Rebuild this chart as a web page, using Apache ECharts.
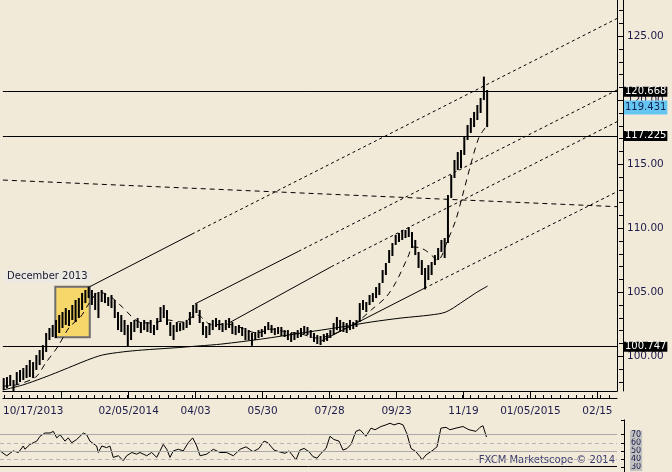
<!DOCTYPE html>
<html><head><meta charset="utf-8">
<script src="https://cdn.jsdelivr.net/npm/echarts@6/dist/echarts.min.js"></script>
<style>html,body{margin:0;padding:0;background:#F2EAD8;}#c{width:672px;height:472px;}</style>
</head><body><div id="c"></div>
<script>
// ---- axis ranges (x in trading days from the left edge) ----
const X_MAX = 376;
const PRICE_MIN = 97.29, PRICE_MAX = 127.836;

// ---- price bars: one bar per two trading days ----
const barHigh = [98.30,98.38,98.54,98.15,98.77,98.93,99.09,99.32,99.71,99.55,
100.10,100.49,100.88,101.82,102.21,102.45,102.84,103.23,103.46,103.77,
103.62,104.01,104.40,104.55,104.95,105.18,105.44,105.18,104.95,105.02,
105.18,104.95,104.63,104.79,104.40,103.46,103.23,102.84,102.45,102.68,
102.84,102.99,102.68,102.84,102.68,102.84,102.45,102.99,103.85,104.01,
103.62,102.68,102.45,102.68,102.60,102.68,102.84,103.46,104.01,104.13,
103.62,102.68,102.37,102.60,102.84,102.99,102.84,102.60,102.84,102.99,
102.68,102.37,102.45,102.29,102.21,102.05,101.82,101.90,102.05,102.13,
102.37,102.68,102.45,102.21,102.29,102.29,102.05,102.05,101.82,101.90,
102.05,102.21,102.37,102.29,102.05,101.82,101.66,101.59,101.74,101.82,
102.05,102.60,103.07,102.84,102.68,102.60,102.84,102.68,102.84,104.16,
104.40,104.24,104.79,104.95,105.41,105.73,106.74,107.29,108.30,108.85,
109.48,109.63,109.87,109.87,110.09,109.71,109.09,108.15,107.52,106.90,
107.13,107.37,107.91,108.46,109.09,109.24,112.60,114.16,115.34,115.96,
116.12,117.13,118.07,118.62,119.09,119.63,120.18,121.85,120.80];
const barLow = [97.37,97.52,97.68,97.29,97.76,97.99,98.15,98.30,98.38,98.30,
98.93,99.32,99.71,100.34,101.27,101.51,101.43,101.82,102.21,102.45,
102.37,102.84,102.68,102.99,103.62,104.16,104.55,104.01,103.62,102.99,
104.24,104.16,103.93,103.77,102.99,102.05,101.90,101.66,100.75,101.27,
101.90,102.21,101.82,102.05,101.90,101.82,101.66,102.05,102.68,102.99,
102.45,101.59,101.27,101.90,101.97,102.05,102.21,102.45,102.99,103.38,
102.60,101.66,101.43,101.66,102.05,102.29,102.05,101.90,102.05,102.21,
101.74,101.66,101.82,101.59,101.27,101.27,100.82,101.27,101.43,101.51,
101.74,102.05,101.82,101.66,101.74,101.59,101.51,101.27,101.12,101.27,
101.43,101.51,101.74,101.66,101.43,101.12,100.96,100.88,101.12,101.20,
101.43,101.66,102.05,101.90,101.90,101.82,102.05,102.13,102.29,102.68,
103.62,103.46,104.01,104.24,104.55,104.79,105.73,106.35,107.29,107.84,
108.70,108.93,109.09,109.24,109.32,108.46,107.91,106.90,106.35,105.23,
105.96,106.35,107.13,107.52,108.15,107.68,108.85,112.37,113.93,114.55,
114.71,115.73,116.90,117.45,117.91,118.46,119.01,120.02,117.91];

// ---- long moving average ----
const longMaDay = [0,12.2,24.4,32.3,42.7,51.8,60.9,73.1,85.3,103.6,120.0,134.1,158.4,182.8,207.2,225.5,243.8,262.0,271.2,280.3,289.5,296.8];
const longMaVal = [97.37,97.76,98.31,98.70,99.24,99.71,100.10,100.34,100.49,100.65,100.81,100.96,101.35,101.82,102.29,102.68,102.99,103.23,103.46,104.16,104.95,105.49];

// ---- short moving average (dashed) ----
const shortMaDay = [0,7.9,20.1,26.2,33.5,40.8,47.5,53.0,59.1,67.0,73.1,83.5,91.4,100.5,109.7,118.8,128.0,137.1,146.3,155.4,164.5,173.7,182.8,192.0,201.1,210.2,216.3,225.5,234.6,240.7,248.0,251.1,255.9,260.2,266.3,272.4,277.3,281.5,286.4,291.3,295.6];
const shortMaVal = [97.68,97.76,98.38,99.48,100.73,102.29,103.07,104.17,105.02,104.55,103.85,102.68,102.60,102.84,102.68,103.23,102.45,102.52,102.21,101.82,102.13,101.90,101.74,101.43,101.66,102.21,102.60,103.62,104.63,105.80,107.76,108.54,108.46,108.15,107.52,109.09,110.65,112.60,114.95,117.05,117.91];

// ---- trend channel lines: [start, end of solid part, end of dashed extension] ----
const channel1 = [[53.2,105.44],[115.8,109.55],[376,126.39]];
const channel2 = [[117.6,104.09],[181.0,108.20],[376,120.80]];
const channel3 = [[138.9,102.64],[201.1,107.00],[376,118.33]];
const channel4 = [[195.0,101.20],[258.0,105.31],[376,112.86]];
const flatLine = [[0,113.77],[376,111.69]];

// ---- levels ----
const levelPrices = [120.668, 117.225, 100.747];
const lastPrice = 119.431;

// ---- December 2013 box ----
const boxDays = [32.1, 53.2];
const boxPrices = [105.44, 101.48];
const boxLabel = 'December 2013';

// ---- RSI ----
const rsiDay = [0,4.1,8.1,11.2,14.2,15.2,18.3,22.4,24.4,27.4,30.5,32.5,34.6,36.6,39.6,41.6,43.7,46.7,50.8,52.8,
54.8,58.9,59.9,62.0,65.0,67.0,69.0,72.1,75.1,77.2,80.3,83.3,85.3,89.4,92.4,95.5,99.5,101.6,103.6,105.6,
108.7,111.7,114.7,117.4,119.9,121.9,126.0,130.0,134.1,138.1,142.2,146.3,
149.9,154.2,157.8,160.9,163.3,167.0,170.0,173.7,176.1,180.4,182.8,185.3,188.3,190.7,193.2,195.6,198.7,201.1,203.5,206.6,
209.0,211.5,213.9,216.9,219.4,223.0,226.1,228.5,232.2,235.2,237.7,240.1,243.1,245.6,248.0,249.2,250.5,253.5,255.9,257.2,
259.6,263.9,266.3,268.7,271.8,274.2,277.9,282.1,285.8,290.1,292.5,294.3,296.5];
const rsiVal = [50,44,50,48,56,52,58,62,68,72,72,74,66,70,62,66,60,64,72,70,
62,56,48,56,54,56,42,44,38,44,48,46,48,44,48,42,58,52,42,50,
52,50,60,66,56,44,46,52,48,48,44,52,
55,49,53,62,60,51,49,47,50,39,51,53,49,43,41,47,53,68,64,62,
51,53,58,74,76,68,78,76,80,82,84,82,84,82,71,62,53,49,43,39,
45,51,55,78,79,76,78,80,76,74,79,81,67];
const rsiSolidLevels = [70, 50];
const rsiDashLevels = [60, 40];
const rsiBottom = 31.6;

// ---- tick labels ----
const xLabelText = ['10/17/2013','02/05/2014','04/03','05/30','07/28','09/23','11/19','01/05/2015','02/15'];
const xLabelDay = [18.6, 77, 118, 159, 200, 241, 282, 323, 364];
const xMajorTickDay = [36, 77, 118, 159, 200, 241, 282, 323, 364];
const yLabelVals = [100, 105, 110, 115, 120, 125];
const rsiLabelVals = [30, 40, 50, 60, 70];

const FONT = 'DejaVu Sans';
const TXT = '#1B1B4B';

const xMinorTicks = []; for (let d = 1; d < X_MAX; d += 5) xMinorTicks.push(d);
const yMinorTicks = []; for (let v = 98; v <= 127; v++) yMinorTicks.push(v);

const barData = barHigh.map((h, i) => [2 * i + 0.5, h, barLow[i]]);
const pairs = (a, b) => a.map((v, i) => [v, b[i]]);

const chart = echarts.init(document.getElementById('c'), null, {renderer: 'canvas'});
const lineBase = {type: 'line', xAxisIndex: 0, yAxisIndex: 0, symbol: 'none', silent: true, z: 4};
const solid = (pts) => Object.assign({}, lineBase, {data: pts.slice(0, 2), lineStyle: {color: '#000', width: 1}});
const dashed = (pts, dash) => Object.assign({}, lineBase, {data: pts.slice(-2), lineStyle: {color: '#000', width: 1, type: dash || [3, 3]}});

const levelLabel = (price, bg, fg, pad) => ({
  show: true, position: 'end', distance: 7, color: fg, backgroundColor: bg,
  fontFamily: FONT, fontSize: 10, lineHeight: 10, padding: pad,
  formatter: () => price.toFixed(3)
});
const axisLineOn = {show: true, onZero: false, lineStyle: {color: '#000', width: 1}};
const axisLineOff = {show: false, onZero: false};

chart.setOption({
  animation: false,
  backgroundColor: '#F2EAD8',
  grid: [
    {left: 0, top: 0, width: 617, height: 391},
    {left: 0, top: 420, width: 617, height: 53.3}
  ],
  xAxis: [
    {type: 'value', gridIndex: 0, min: 0, max: X_MAX, position: 'bottom', offset: 0,
      axisLine: axisLineOn, axisTick: {show: false}, axisLabel: {show: false}, splitLine: {show: false}},
    {type: 'value', gridIndex: 0, min: 0, max: X_MAX, position: 'bottom', offset: 7,
      axisLine: axisLineOn,
      axisTick: {show: true, inside: true, length: 3, customValues: xMinorTicks, lineStyle: {color: '#000'}},
      axisLabel: {show: false}, splitLine: {show: false}},
    {type: 'value', gridIndex: 0, min: 0, max: X_MAX, position: 'bottom', offset: 7,
      axisLine: axisLineOff,
      axisTick: {show: true, inside: true, length: 7, customValues: xMajorTickDay, lineStyle: {color: '#000'}},
      axisLabel: {show: true, hideOverlap: false, customValues: xLabelDay, margin: 8, color: TXT, fontFamily: FONT, fontSize: 10.5,
        formatter: v => xLabelText[xLabelDay.indexOf(v)] || ''},
      splitLine: {show: false}},
    {type: 'value', gridIndex: 1, min: 0, max: X_MAX, show: false, axisLine: axisLineOff}
  ],
  yAxis: [
    {type: 'value', gridIndex: 0, min: PRICE_MIN, max: PRICE_MAX, position: 'right', offset: 0,
      axisLine: axisLineOn, axisTick: {show: false}, axisLabel: {show: false}, splitLine: {show: false}},
    {type: 'value', gridIndex: 0, min: PRICE_MIN, max: PRICE_MAX, position: 'right', offset: 6,
      axisLine: axisLineOn,
      axisTick: {show: true, inside: true, length: 6, customValues: yLabelVals, lineStyle: {color: '#000'}},
      axisLabel: {show: true, hideOverlap: false, customValues: yLabelVals, margin: 4, color: TXT, fontFamily: FONT, fontSize: 10.5,
        formatter: v => v.toFixed(2)},
      splitLine: {show: false}},
    {type: 'value', gridIndex: 0, min: PRICE_MIN, max: PRICE_MAX, position: 'right', offset: 6,
      axisLine: axisLineOff,
      axisTick: {show: true, inside: true, length: 4, customValues: yMinorTicks, lineStyle: {color: '#000'}},
      axisLabel: {show: false}, splitLine: {show: false}},
    {type: 'value', gridIndex: 1, min: 24, max: 88, position: 'right', offset: 7,
      axisLine: axisLineOn,
      axisTick: {show: true, inside: true, length: 3, customValues: [88].concat(rsiLabelVals), lineStyle: {color: '#000'}},
      axisLabel: {show: true, hideOverlap: false, showMinLabel: true, showMaxLabel: true, customValues: rsiLabelVals, margin: 6,
        color: TXT, fontFamily: FONT, fontSize: 8, lineHeight: 8, backgroundColor: '#C0C0C0', padding: [0, 1, 0, 1]},
      splitLine: {show: false}}
  ],
  graphic: [
    {type: 'text', right: 57, top: 455, silent: true,
      style: {text: 'FXCM Marketscope \u00A9 2014', fill: '#3A3A6E', font: '10px "DejaVu Sans"'}}
  ],
  series: [
    // December 2013 box
    Object.assign({}, lineBase, {data: [], z: 1,
      markArea: {silent: true, itemStyle: {color: '#F8D76A', borderColor: '#6E6E6E', borderWidth: 2},
        label: {show: true, position: 'top', align: 'right', offset: [18, 2], distance: 5,
          formatter: boxLabel, color: '#1A1A2E', fontFamily: FONT, fontSize: 10, backgroundColor: '#ECE9E3',
          padding: [1, 3, 1, 3]},
        data: [[{coord: [boxDays[0], boxPrices[0]]}, {coord: [boxDays[1], boxPrices[1]]}]]}}),
    // long MA
    Object.assign({}, lineBase, {data: pairs(longMaDay, longMaVal), smooth: 0.3, lineStyle: {color: '#000', width: 1}}),
    // short MA
    Object.assign({}, lineBase, {data: pairs(shortMaDay, shortMaVal), smooth: 0.3, lineStyle: {color: '#000', width: 1, type: [6, 5]}}),
    // channel lines
    solid(channel1), dashed(channel1),
    solid(channel2), dashed(channel2),
    solid(channel3), dashed(channel3),
    solid(channel4), dashed(channel4),
    Object.assign({}, lineBase, {data: flatLine, lineStyle: {color: '#000', width: 1, type: [5, 4]}}),
    // price bars
    {type: 'custom', xAxisIndex: 0, yAxisIndex: 0, z: 5, silent: true, clip: true,
      data: barData,
      renderItem: (params, api) => {
        const top = api.coord([api.value(0), api.value(1)]);
        const bot = api.coord([api.value(0), api.value(2)]);
        return {type: 'rect', shape: {x: top[0] - 1, y: top[1], width: 2, height: Math.max(1, bot[1] - top[1])},
          style: {fill: '#000'}};
      }},
    // level lines and price tags
    Object.assign({}, lineBase, {data: [], z: 6,
      markLine: {silent: true, symbol: ['none', 'none'],
        data: levelPrices.map(p => ({yAxis: p, lineStyle: {color: '#000', width: 1, type: 'solid'},
            label: levelLabel(p, '#000', '#fff', [0, 1, 0, 1])}))
          .concat([{yAxis: lastPrice, lineStyle: {color: 'rgba(0,0,0,0)', width: 1},
            label: levelLabel(lastPrice, '#66C6F2', '#102050', [2, 1, 2, 1])}])}}),
    // RSI
    {type: 'line', xAxisIndex: 3, yAxisIndex: 3, symbol: 'none', silent: true, z: 4,
      data: pairs(rsiDay, rsiVal), lineStyle: {color: '#000', width: 1},
      markLine: {silent: true, symbol: ['none', 'none'], label: {show: false},
        data: rsiSolidLevels.map(v => ({yAxis: v, lineStyle: {color: '#A9A9A9', width: 1, type: 'solid'}}))
          .concat(rsiDashLevels.map(v => ({yAxis: v, lineStyle: {color: '#B4B4B4', width: 1, type: [4, 3]}})))
          .concat([{yAxis: rsiBottom, lineStyle: {color: '#000', width: 1, type: 'solid'}}])}}
  ]
});
</script>
</body></html>
